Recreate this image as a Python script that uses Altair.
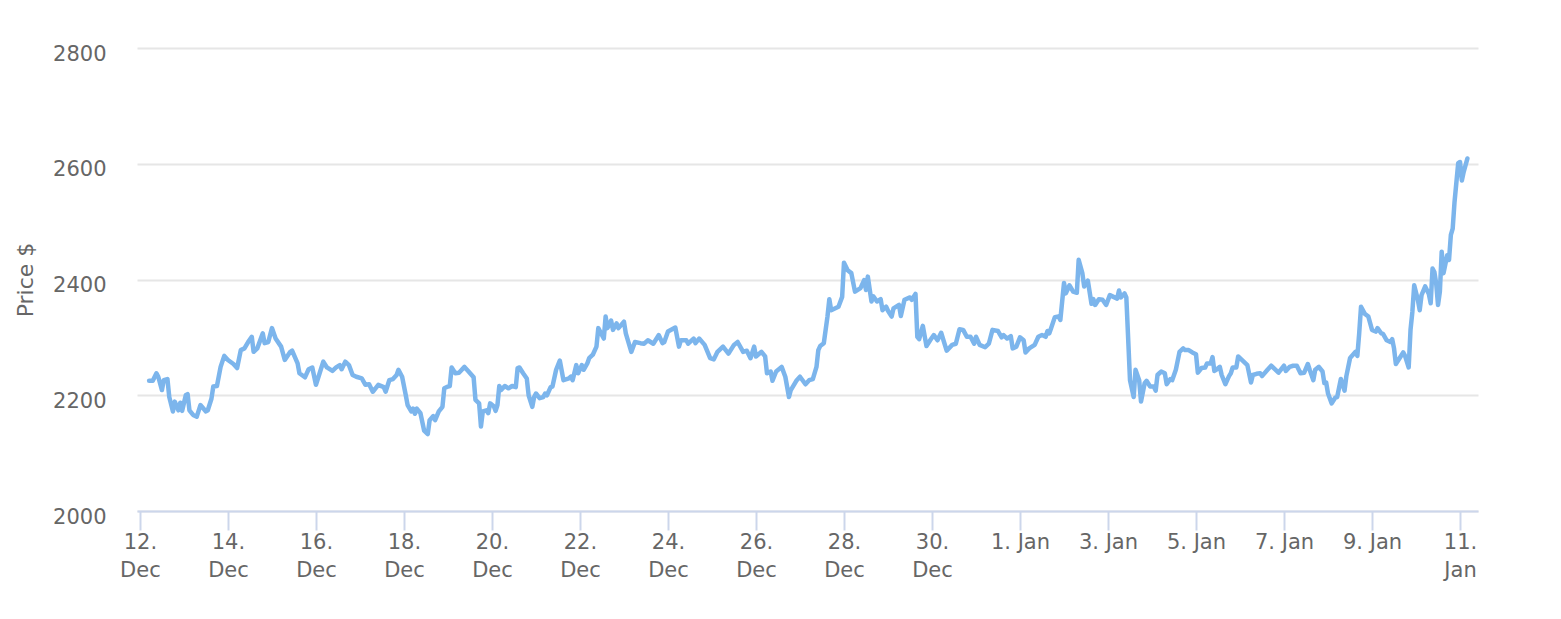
import altair as alt
import pandas as pd

# hours after 12 Dec 00:00 (UTC) and price
hours_a = [5,7,9,10,12,13,15,16,18,19,21,22,23,25,26,27,29,31,33,36,37,39,40,42,44,46,48,51,53,55,57,59,61,62,64,67,68,70,72,74,77,79,82,83,86,87,90,92,94,96,98,100,102,105,107,109,110,112,114,116,118,121,123]
price_a = [2225,2225,2238,2232,2209,2226,2228,2197,2172,2189,2174,2187,2173,2200,2202,2174,2166,2163,2183,2172,2174,2194,2215,2216,2249,2268,2261,2254,2247,2278,2281,2292,2301,2275,2281,2307,2290,2292,2316,2298,2284,2261,2275,2277,2255,2238,2231,2245,2248,2218,2238,2258,2248,2242,2248,2252,2245,2258,2252,2235,2232,2229,2218]

hours_b = [125,127,130,133,134,136,138,140,141,143,145,146,148,149,150,151,153,155,157,158,160,161,163,165,166,168,169,170,172,174,177,179,182,183,185,186,187,189,190,191,193,194,195,196,197,199,201,203,205,206,207,209,211,212,214,215,216,218,220,221,222,224,225,227,229,231,234,235,236,238,239,241,242,244,245]
price_b = [2219,2206,2218,2214,2206,2226,2228,2235,2244,2232,2200,2183,2172,2177,2168,2177,2169,2139,2133,2157,2164,2157,2172,2180,2212,2215,2216,2248,2238,2239,2249,2242,2231,2192,2186,2146,2172,2174,2169,2186,2181,2173,2183,2216,2209,2216,2212,2216,2214,2247,2248,2238,2229,2200,2180,2197,2203,2195,2197,2203,2200,2214,2215,2244,2260,2226,2229,2232,2226,2252,2238,2252,2244,2255,2264]

hours_c = [247,249,250,251,253,254,255,257,258,260,261,264,265,268,270,273,275,277,280,283,285,286,288,292,294,295,298,299,302,303,305,308,311,313,315,318,321,324,326,329,331,333,335,336,339,341,342,344,345,347,350,352,354,355,358,360]
price_c = [2270,2284,2316,2310,2298,2336,2316,2329,2313,2324,2316,2327,2307,2275,2292,2290,2289,2295,2289,2304,2290,2292,2310,2317,2284,2295,2295,2289,2298,2290,2298,2287,2264,2262,2275,2284,2272,2287,2292,2275,2277,2264,2284,2267,2275,2267,2238,2241,2225,2241,2249,2232,2197,2209,2225,2232]

hours_d = [363,365,367,369,370,371,373,375,376,377,379,381,383,384,386,388,390,393,395,396,397,399,400,402,404,405,407,408,410,411,414,415,417,420,421,423,424,425,427,429,431,433,435,437,440,443,445,447,449,451,453,455,456,458,461,463,465,468,470,471,473,475,476,478,480,482,483,485]
price_d = [2219,2226,2228,2249,2278,2285,2290,2336,2366,2347,2350,2353,2370,2429,2416,2411,2379,2385,2399,2382,2405,2362,2371,2362,2366,2347,2353,2346,2336,2350,2356,2337,2365,2369,2365,2375,2301,2297,2320,2285,2295,2304,2295,2308,2277,2287,2289,2314,2313,2301,2301,2289,2301,2287,2283,2289,2313,2311,2300,2304,2298,2302,2281,2284,2300,2295,2274,2281]

hours_e = [488,490,492,494,495,496,497,499,501,502,504,505,507,509,511,512,514,515,517,519,520,521,523,525,527,529,531,533,534,535,537,538,540,542,543,545,546,548,549,551,553,554,555,556,557,559,560,562,563,565,567,569,570,572,574,576,577,579,581,582,584,585,586,587,589,590,592,594,595,596,598,599,601,604]
price_e = [2287,2301,2304,2301,2311,2307,2316,2335,2336,2330,2394,2376,2390,2379,2377,2434,2411,2388,2398,2358,2366,2356,2366,2365,2356,2373,2370,2367,2381,2369,2376,2369,2226,2197,2244,2226,2189,2221,2225,2215,2215,2208,2235,2238,2241,2238,2219,2228,2226,2244,2275,2281,2278,2278,2274,2271,2239,2247,2248,2255,2255,2266,2242,2244,2249,2235,2219,2233,2238,2248,2248,2267,2261,2252]

hours_f = [606,607,609,611,612,615,617,619,621,624,625,627,629,631,633,635,637,638,640,641,643,645,646,647,648,650,652,653,655,657,658,660,661,663,664,665,666,668,670,672,674,675,677,678,680,682,683,684,685,687,689,690,692,693,694,695,697,698,699,701,703,704,705,706,707,708,709,710,711,713,714,715,716,717,719,720,721,722,724]
price_f = [2222,2235,2237,2238,2233,2244,2251,2245,2239,2251,2242,2249,2251,2251,2238,2239,2254,2244,2226,2244,2249,2241,2221,2222,2203,2186,2196,2197,2228,2208,2233,2264,2268,2275,2268,2307,2353,2341,2336,2313,2310,2316,2307,2306,2295,2292,2297,2281,2254,2264,2274,2268,2248,2313,2344,2390,2365,2347,2373,2388,2375,2359,2419,2413,2393,2356,2379,2448,2411,2442,2434,2477,2488,2534,2601,2603,2571,2586,2609]

y_ticks = [2000, 2200, 2400, 2600, 2800]
x_tick_days = [(2020, 12, d) for d in range(12, 31, 2)] + [(2021, 1, d) for d in range(1, 12, 2)]

hours = hours_a + hours_b + hours_c + hours_d + hours_e + hours_f
prices = price_a + price_b + price_c + price_d + price_e + price_f
base = pd.Timestamp("2020-12-12 00:00:00")
times = [(base + pd.Timedelta(hours=h)).strftime("%Y-%m-%dT%H:%M:%SZ") for h in hours]
df = pd.DataFrame({"time": times, "price": prices})

x_values = [alt.DateTime(year=y, month=m, date=d, utc=True) for (y, m, d) in x_tick_days]
x_domain = [alt.DateTime(year=2020, month=12, date=11, hours=22, minutes=24, utc=True),
            alt.DateTime(year=2021, month=1, date=11, hours=9, minutes=48, utc=True)]

label_expr = ("utcdate(datum.value) >= 10 ? [utcdate(datum.value) + '.', utcFormat(datum.value, '%b')]"
              " : utcdate(datum.value) + '. ' + utcFormat(datum.value, '%b')")

chart = alt.Chart(df).mark_line(
    color="#7cb5ec", strokeWidth=4.5, strokeJoin="round", strokeCap="round"
).encode(
    x=alt.X("time:T",
            scale=alt.Scale(type="utc", domain=x_domain),
            axis=alt.Axis(values=x_values, labelExpr=label_expr, title=None, grid=False,
                          domainColor="#ccd6eb", domainWidth=2,
                          tickColor="#ccd6eb", tickWidth=2, tickSize=19,
                          labelPadding=18, labelBaseline="alphabetic", labelLineHeight=28,
                          labelAlign="center", labelFlush=False, labelOverlap=False, labelBound=False)),
    y=alt.Y("price:Q",
            scale=alt.Scale(domain=[2000, 2800], zero=False, nice=False),
            axis=alt.Axis(values=y_ticks, format="d", title="Price $", grid=True,
                          gridColor="#e6e6e6", gridWidth=2,
                          domain=False, ticks=False, tickSize=0, labelPadding=31,
                          labelBaseline="alphabetic", labelOffset=12,
                          titleX=-105, titleY=231.5, titleBaseline="alphabetic", titleAngle=270,
                          titleAlign="center", titleFontSize=22)),
).properties(
    width=1341, height=463,
    autosize=alt.AutoSizeParams(type="none"),
    padding={"left": 129, "top": 40, "right": 75, "bottom": 100},
).configure_view(stroke=None).configure_axis(
    labelFont="DejaVu Sans", labelFontSize=21, labelColor="#666666",
    titleFont="DejaVu Sans", titleColor="#666666", titleFontWeight="normal",
)

chart.save("out.html", embed_options={"renderer": "svg", "actions": False})
